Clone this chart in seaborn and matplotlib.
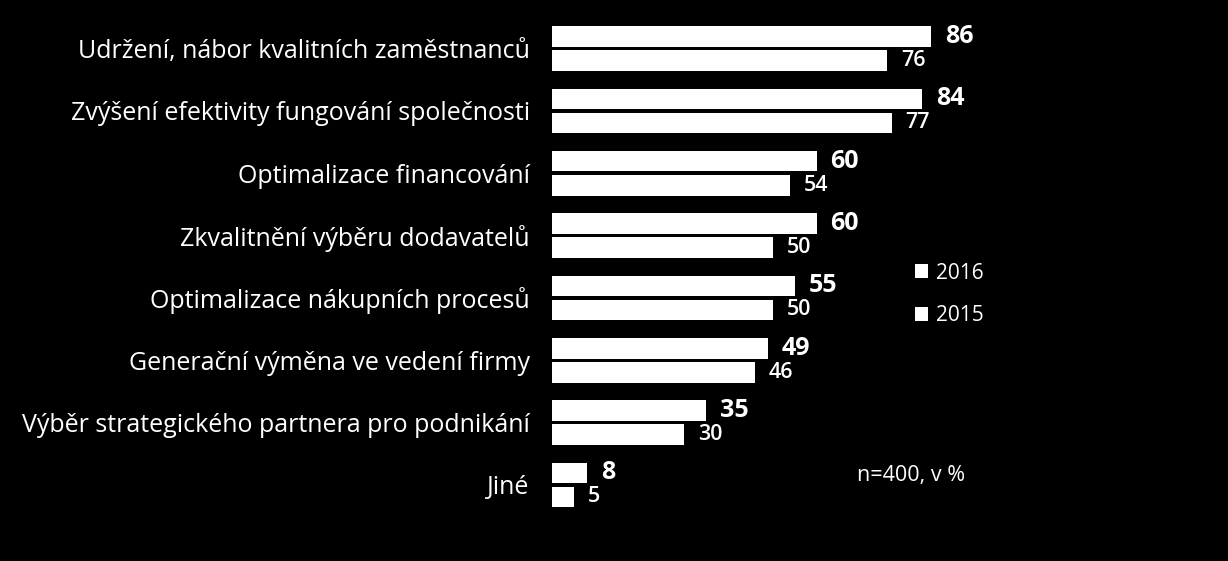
import pandas as pd
import matplotlib.pyplot as plt
import seaborn as sns

# === Data ===
categories = [
    "Udržení, nábor kvalitních zaměstnanců",
    "Zvýšení efektivity fungování společnosti",
    "Optimalizace financování",
    "Zkvalitnění výběru dodavatelů",
    "Optimalizace nákupních procesů",
    "Generační výměna ve vedení firmy",
    "Výběr strategického partnera pro podnikání",
    "Jiné",
]
values_2016 = [86, 84, 60, 60, 55, 49, 35, 8]
values_2015 = [76, 77, 54, 50, 50, 46, 30, 5]
years = ["2016", "2015"]

df = pd.DataFrame({
    "Category": categories * 2,
    "Year": [years[0]] * len(categories) + [years[1]] * len(categories),
    "Value": values_2016 + values_2015,
})

# === Style ===
sns.set_style("dark")
plt.rcParams["font.family"] = ["Open Sans", "DejaVu Sans"]

fig = plt.figure(figsize=(12.28, 5.61), dpi=100, facecolor="black")
ax = fig.add_axes([552 / 1228, 0.080, 661.5 / 1228, 0.889])
ax.set_facecolor("black")

sns.barplot(data=df, y="Category", x="Value", hue="Year", hue_order=years,
            palette=["white", "white"], orient="h", width=0.772, gap=0.145,
            linewidth=0, edgecolor="none", ax=ax, legend=True)

ax.set_xlim(0, 150)
ax.set_ylim(7.5, -0.5)
ax.set_xlabel("")
ax.set_ylabel("")
ax.set_xticks([])
ax.tick_params(axis="y", length=0, pad=16, labelsize=18, colors="white")
for s in ax.spines.values():
    s.set_visible(False)
ax.grid(False)

# value labels
ax.bar_label(ax.containers[0], padding=10, color="white", fontsize=18, fontweight="bold")
ax.bar_label(ax.containers[1], padding=10, color="white", fontsize=15.5, fontweight="semibold")

# legend
handles, labels = ax.get_legend_handles_labels()
leg = ax.legend(handles, labels, loc="upper left", bbox_to_anchor=(0.52, 0.546),
                frameon=False, fontsize=15, labelcolor="white",
                handlelength=0.65, handleheight=0.65, handletextpad=0.35,
                labelspacing=1.05)

fig.text(857 / 1228, 1 - 476 / 561, "n=400, v %", color="white", fontsize=15.5,
         va="center", ha="left")

plt.savefig("out.png", dpi=100, facecolor="black")
plt.close()
